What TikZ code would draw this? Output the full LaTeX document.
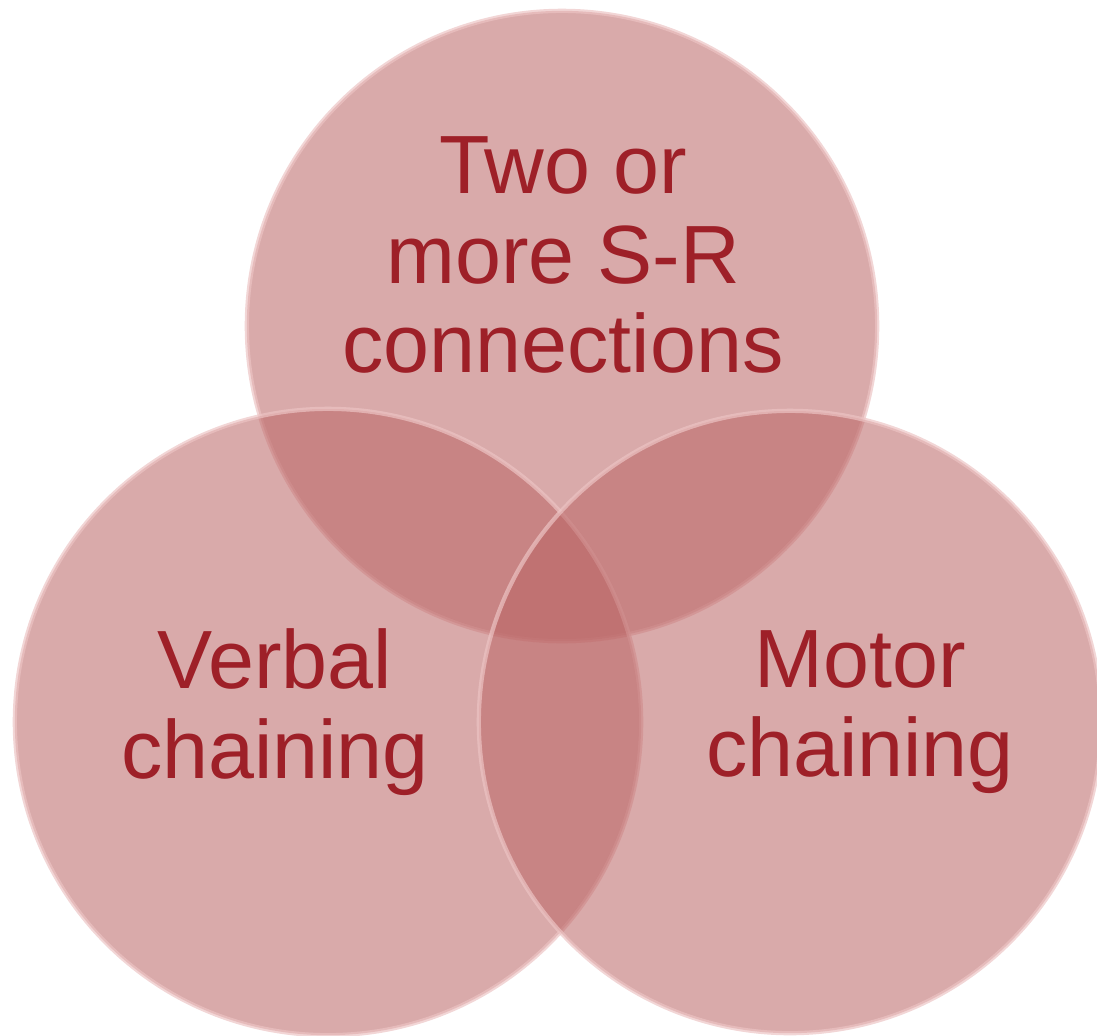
\documentclass[tikz,border=0pt]{standalone}
\usepackage{fontspec}
\setmainfont{Liberation Sans}
\definecolor{vennfill}{RGB}{186,100,100}
\definecolor{vennrim}{RGB}{236,196,196}
\definecolor{venntext}{RGB}{158,32,40}
\tikzset{
  venn/.style={circle,fill=vennfill,fill opacity=0.55,draw=vennrim,draw opacity=0.7,line width=1.2pt,minimum size=#1,inner sep=0pt},
  vlabel/.style={text=venntext,align=center,font=\fontsize{23.5}{25.5}\selectfont}
}
\begin{document}
\begin{tikzpicture}[x=0.01cm,y=-0.01cm]
        \useasboundingbox (0,0) rectangle (1097,1035);
        \node[venn=6.3cm] (srset) at (562,326) {};
        \node[venn=6.26cm] (verbset) at (328,722) {};
        \node[venn=6.22cm] (motset) at (790,722) {};
        \node[vlabel] (srtext) at (563,255) {Two or\\more S-R\\connections};
        \node[vlabel] (verbtext) at (275,712) {Verbal\\chaining};
        \node[vlabel] (mottext) at (860,712) {Motor\\chaining};
        \end{tikzpicture}
\end{document}
